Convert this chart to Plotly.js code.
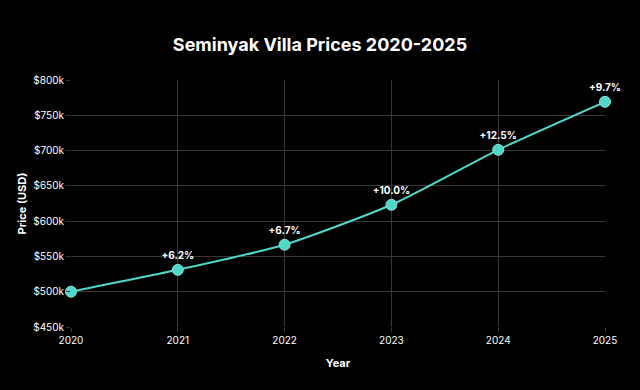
<!DOCTYPE html>
<html>
<head>
<meta charset="utf-8">
<script src="https://cdn.plot.ly/plotly-3.0.1.min.js"></script>
<style>html,body{margin:0;padding:0;background:#000;}#chart{width:640px;height:390px;}</style>
</head>
<body>
<div id="chart"></div>
<script>
const years = [2020, 2021, 2022, 2023, 2024, 2025];
const prices = [500000, 531000, 566600, 623200, 701100, 769100];
const growthLabels = ["", "+6.2%", "+6.7%", "+10.0%", "+12.5%", "+9.7%"];

const trace = {
  x: years,
  y: prices,
  type: "scatter",
  mode: "lines+markers+text",
  text: growthLabels,
  textposition: "top center",
  textfont: {family: "Inter, sans-serif", size: 10, color: "#ffffff", weight: 700},
  line: {color: "#4fd8c9", width: 2, shape: "spline", smoothing: 0.6},
  marker: {color: "#4fd8c9", size: 11, line: {color: "#7fe6da", width: 1}},
  cliponaxis: false,
  hoverinfo: "skip"
};

const layout = {
  width: 640,
  height: 390,
  paper_bgcolor: "#000000",
  plot_bgcolor: "#000000",
  font: {family: "Inter, sans-serif", color: "#ffffff", size: 10},
  margin: {l: 71, r: 35, t: 80, b: 63},
  showlegend: false,
  title: {
    text: "<b>Seminyak Villa Prices 2020-2025</b>",
    x: 0.5, xanchor: "center", y: 0.885, yanchor: "middle",
    font: {family: "Inter, sans-serif", size: 18, color: "#ffffff"}
  },
  xaxis: {
    title: {text: "<b>Year</b>", font: {size: 11, color: "#ffffff"}, standoff: 14},
    tickvals: years,
    ticktext: years.map(String),
    range: [2020, 2025],
    showgrid: true,
    gridcolor: "#383838",
    zeroline: false,
    showline: false,
    ticks: "outside",
    ticklen: 4,
    tickcolor: "#383838",
    tickfont: {size: 10, color: "#ffffff"}
  },
  yaxis: {
    title: {text: "<b>Price (USD)</b>", font: {size: 11, color: "#ffffff"}, standoff: 4},
    range: [450000, 800000],
    dtick: 50000,
    tickprefix: "$",
    tickformat: "~s",
    showgrid: true,
    gridcolor: "#383838",
    zeroline: false,
    showline: false,
    ticks: "outside",
    ticklen: 4,
    tickcolor: "#383838",
    tickfont: {size: 10, color: "#ffffff"}
  }
};

Plotly.newPlot("chart", [trace], layout, {displayModeBar: false, staticPlot: true});
</script>
</body>
</html>
